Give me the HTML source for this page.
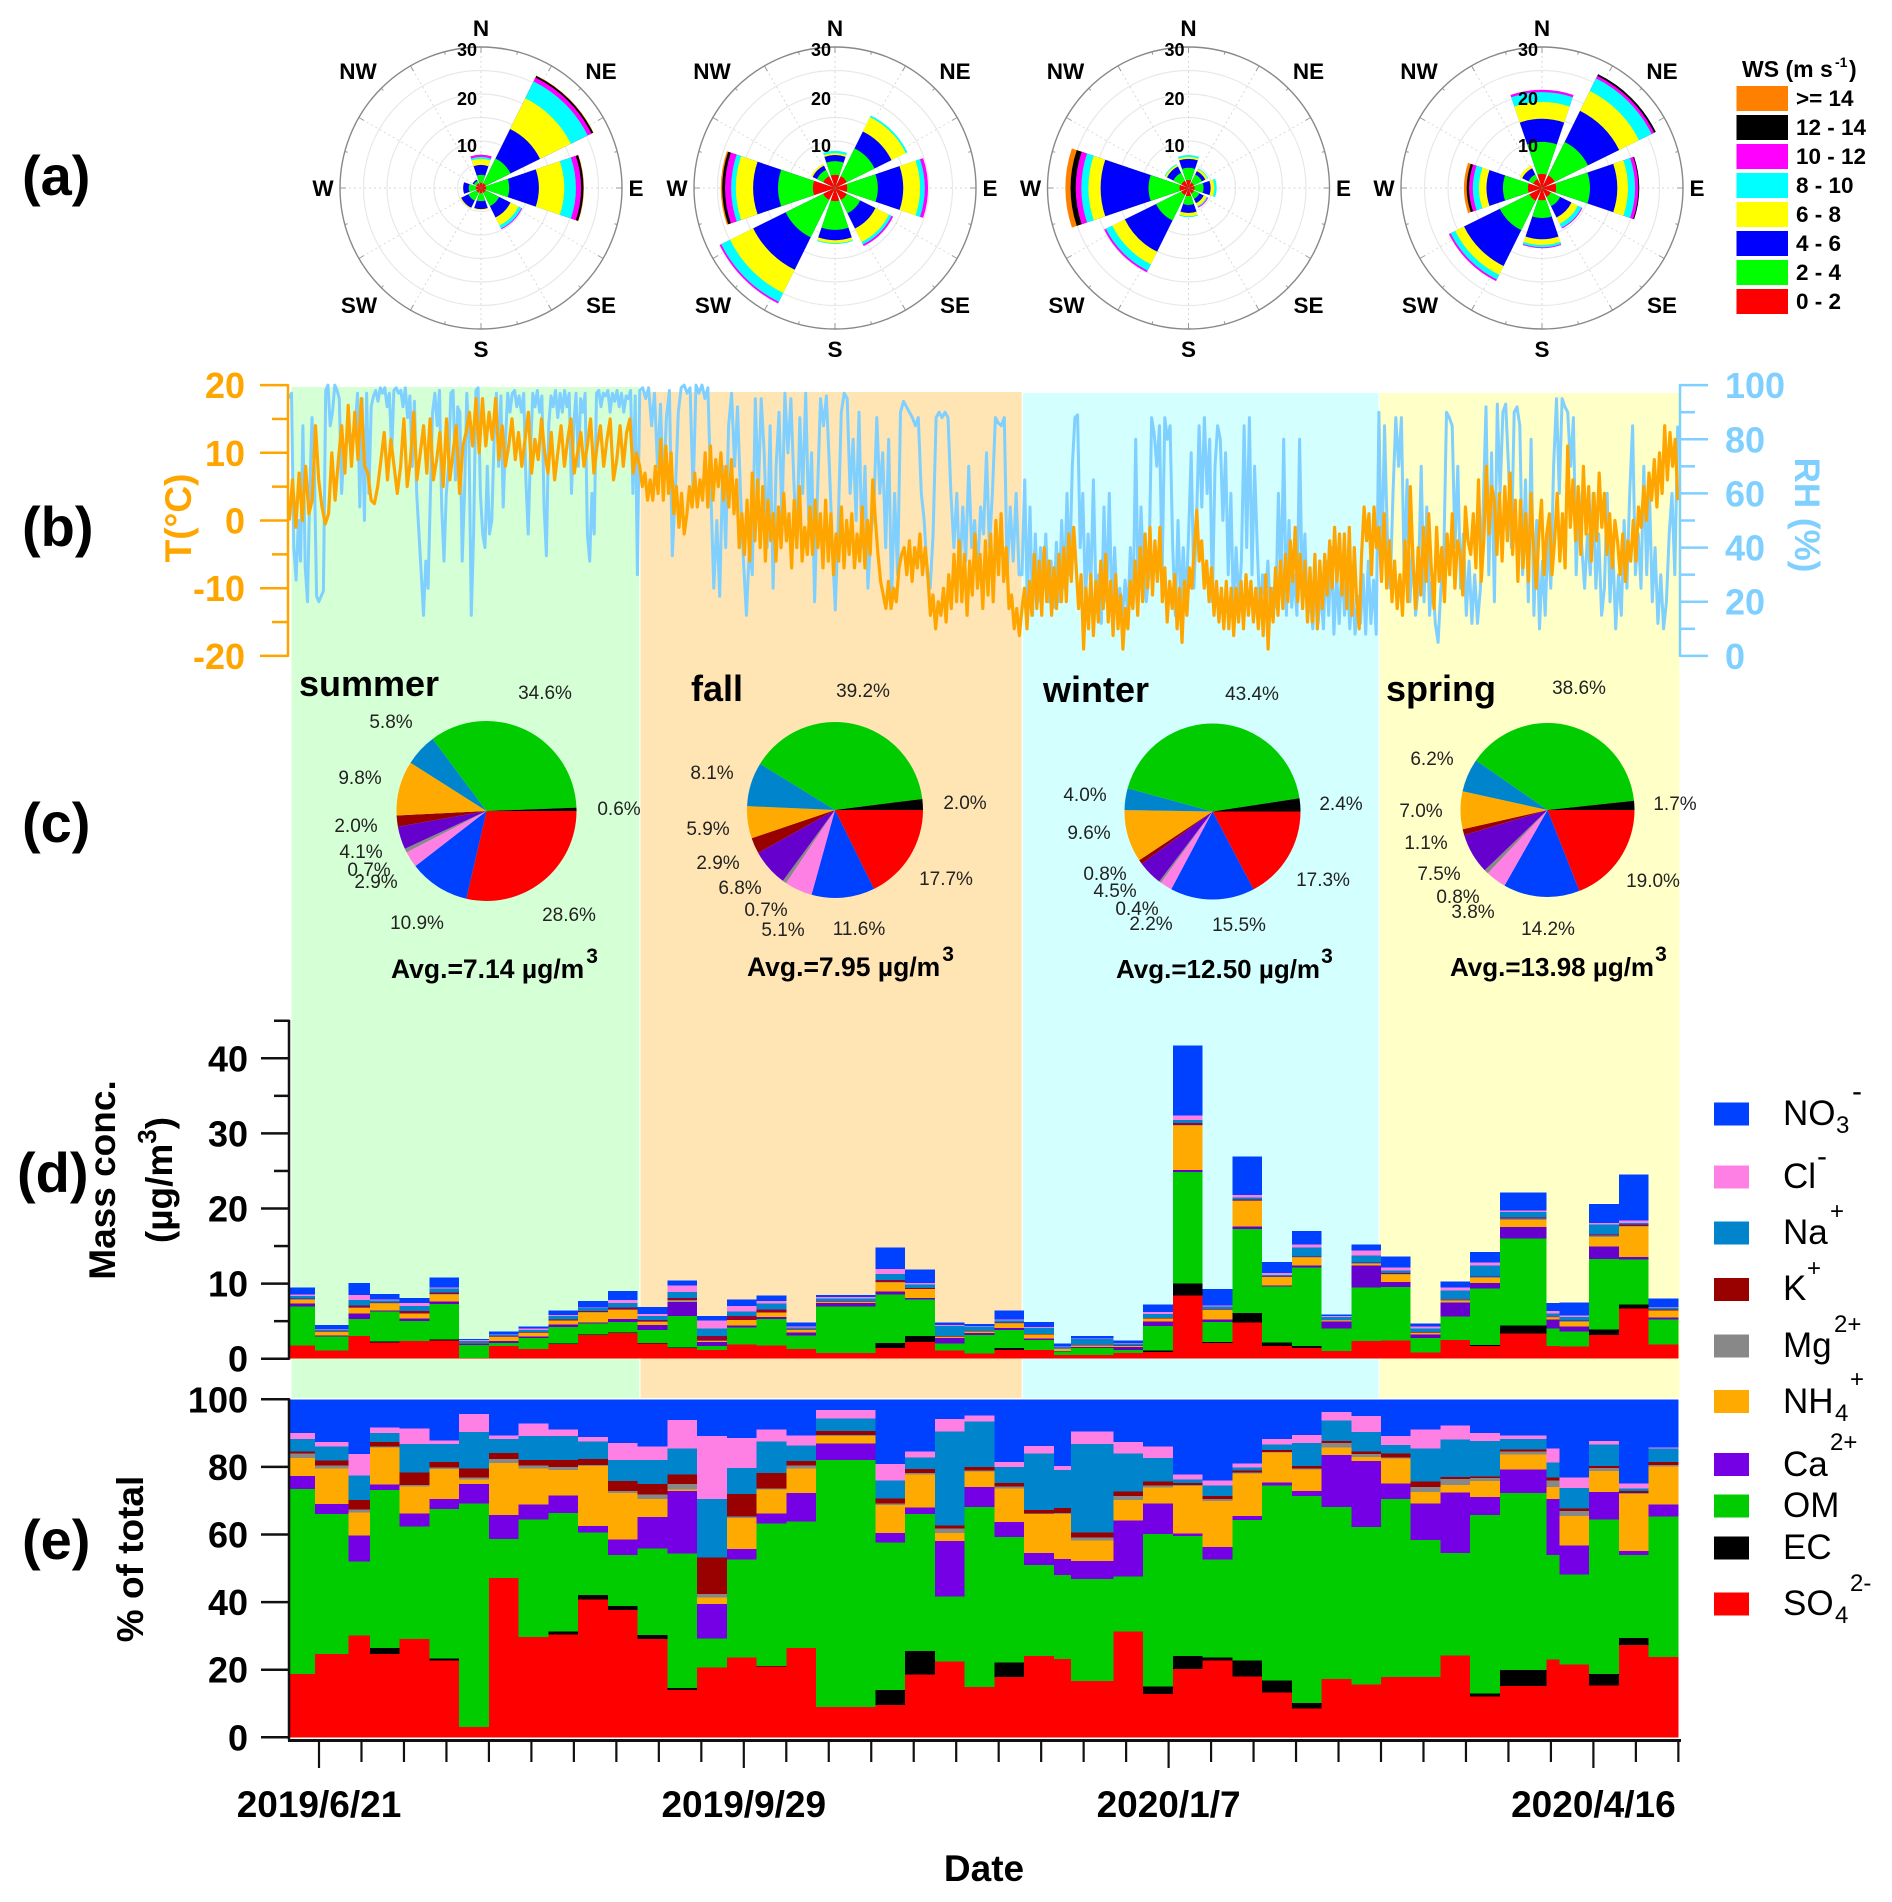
<!DOCTYPE html>
<html lang="en">
<head>
<meta charset="utf-8">
<title>Seasonal wind, meteorology and PM composition</title>
<style>
html,body{margin:0;padding:0;background:#fff}
svg{display:block;font-family:"Liberation Sans",Arial,sans-serif}
.panel{font-weight:700;font-size:56px;fill:#000}
.pct{font-size:19px;fill:#222}
.season{font-weight:700;font-size:36px;fill:#000}
.avg{font-weight:700;font-size:26.5px;fill:#000}
.ion{font-size:35px;fill:#000}
.ions{font-size:24px;fill:#000}
.ws{font-weight:700;font-size:22.5px;fill:#000}
</style>
</head>
<body>
<svg id="fig" xmlns="http://www.w3.org/2000/svg" width="1892" height="1902" viewBox="0 0 1892 1902">
<rect width="1892" height="1902" fill="#fff"/>
<g id="bg"></g>
<g id="roses"></g>
<g id="panelB"></g>
<g id="pies"></g>
<g id="panelD"></g>
<g id="panelE"></g>

<text class="panel" x="22" y="195">(a)</text>
<text class="panel" x="22" y="546">(b)</text>
<text class="panel" x="22" y="842">(c)</text>
<text class="panel" x="17" y="1192">(d)</text>
<text class="panel" x="22" y="1559">(e)</text>

<!-- WS legend -->
<g>
<text x="1742" y="77" font-weight="700" font-size="23">WS (m s</text>
<text x="1835" y="67" font-weight="700" font-size="14">-1</text>
<text x="1849" y="77" font-weight="700" font-size="23">)</text>
<rect x="1736.5" y="86" width="51.5" height="25" fill="#ff8000"/>
<text class="ws" x="1796" y="106">&gt;= 14</text>
<rect x="1736.5" y="115" width="51.5" height="25" fill="#000"/>
<text class="ws" x="1796" y="135">12 - 14</text>
<rect x="1736.5" y="144" width="51.5" height="25" fill="#ff00ff"/>
<text class="ws" x="1796" y="164">10 - 12</text>
<rect x="1736.5" y="173" width="51.5" height="25" fill="#00ffff"/>
<text class="ws" x="1796" y="193">8 - 10</text>
<rect x="1736.5" y="202" width="51.5" height="25" fill="#ffff00"/>
<text class="ws" x="1796" y="222">6 - 8</text>
<rect x="1736.5" y="231" width="51.5" height="25" fill="#0000ff"/>
<text class="ws" x="1796" y="251">4 - 6</text>
<rect x="1736.5" y="260" width="51.5" height="25" fill="#00ff00"/>
<text class="ws" x="1796" y="280">2 - 4</text>
<rect x="1736.5" y="289" width="51.5" height="25" fill="#ff0000"/>
<text class="ws" x="1796" y="309">0 - 2</text>
</g>

<!-- Season titles and averages -->
<text class="season" x="299" y="696">summer</text>
<text class="season" x="691" y="701">fall</text>
<text class="season" x="1043" y="702">winter</text>
<text class="season" x="1386" y="701">spring</text>
<text class="avg" x="391" y="978">Avg.=7.14 µg/m<tspan font-size="21" dy="-15" dx="2">3</tspan></text>
<text class="avg" x="747" y="976">Avg.=7.95 µg/m<tspan font-size="21" dy="-15" dx="2">3</tspan></text>
<text class="avg" x="1116" y="978" font-size="26" style="font-size:26px">Avg.=12.50 µg/m<tspan font-size="21" dy="-15" dx="1">3</tspan></text>
<text class="avg" x="1450" y="976" font-size="26" style="font-size:26px">Avg.=13.98 µg/m<tspan font-size="21" dy="-15" dx="1">3</tspan></text>

<!-- Pie labels -->
<g text-anchor="middle">
<text class="pct" x="545" y="699">34.6%</text>
<text class="pct" x="391" y="728">5.8%</text>
<text class="pct" x="360" y="784">9.8%</text>
<text class="pct" x="619" y="815">0.6%</text>
<text class="pct" x="356" y="832">2.0%</text>
<text class="pct" x="361" y="858">4.1%</text>
<text class="pct" x="369" y="876">0.7%</text>
<text class="pct" x="376" y="888">2.9%</text>
<text class="pct" x="417" y="929">10.9%</text>
<text class="pct" x="569" y="921">28.6%</text>
</g>
<g text-anchor="middle">
<text class="pct" x="863" y="697">39.2%</text>
<text class="pct" x="712" y="779">8.1%</text>
<text class="pct" x="965" y="809">2.0%</text>
<text class="pct" x="708" y="835">5.9%</text>
<text class="pct" x="718" y="869">2.9%</text>
<text class="pct" x="740" y="894">6.8%</text>
<text class="pct" x="766" y="916">0.7%</text>
<text class="pct" x="783" y="936">5.1%</text>
<text class="pct" x="859" y="935">11.6%</text>
<text class="pct" x="946" y="885">17.7%</text>
</g>
<g text-anchor="middle">
<text class="pct" x="1252" y="700">43.4%</text>
<text class="pct" x="1085" y="801">4.0%</text>
<text class="pct" x="1341" y="810">2.4%</text>
<text class="pct" x="1089" y="839">9.6%</text>
<text class="pct" x="1105" y="880">0.8%</text>
<text class="pct" x="1115" y="897">4.5%</text>
<text class="pct" x="1137" y="915">0.4%</text>
<text class="pct" x="1151" y="930">2.2%</text>
<text class="pct" x="1239" y="931">15.5%</text>
<text class="pct" x="1323" y="886">17.3%</text>
</g>
<g text-anchor="middle">
<text class="pct" x="1579" y="694">38.6%</text>
<text class="pct" x="1432" y="765">6.2%</text>
<text class="pct" x="1675" y="810">1.7%</text>
<text class="pct" x="1421" y="817">7.0%</text>
<text class="pct" x="1426" y="849">1.1%</text>
<text class="pct" x="1439" y="880">7.5%</text>
<text class="pct" x="1458" y="903">0.8%</text>
<text class="pct" x="1473" y="918">3.8%</text>
<text class="pct" x="1548" y="935">14.2%</text>
<text class="pct" x="1653" y="887">19.0%</text>
</g>

<!-- Axis titles -->
<text transform="translate(191,518) rotate(-90)" text-anchor="middle" font-weight="700" font-size="37" fill="#ffa500">T(°C)</text>
<text transform="translate(1795,515) rotate(90)" text-anchor="middle" font-weight="700" font-size="35" fill="#7fd0ff">RH (%)</text>
<text transform="translate(115,1180) rotate(-90)" text-anchor="middle" font-weight="700" font-size="37" fill="#000">Mass conc.</text>
<text transform="translate(172,1180) rotate(-90)" text-anchor="middle" font-weight="700" font-size="37" fill="#000">(µg/m<tspan font-size="26" dy="-16">3</tspan><tspan dy="16">)</tspan></text>
<text transform="translate(143,1559) rotate(-90)" text-anchor="middle" font-weight="700" font-size="37" fill="#000">% of total</text>
<text x="984" y="1881" text-anchor="middle" font-weight="700" font-size="37" fill="#000">Date</text>

<!-- Composition legend -->
<g>
<rect x="1714" y="1102.5" width="35" height="23" fill="#0040ff"/>
<text class="ion" x="1783" y="1125">NO</text>
<text class="ions" x="1836" y="1133">3</text>
<text class="ions" x="1852" y="1101" style="font-size:30px">-</text>
<rect x="1714" y="1165.5" width="35" height="23" fill="#ff80e5"/>
<text class="ion" x="1783" y="1188">Cl</text>
<text class="ions" x="1817" y="1166" style="font-size:30px">-</text>
<rect x="1714" y="1221.5" width="35" height="23" fill="#0085cc"/>
<text class="ion" x="1783" y="1244">Na</text>
<text class="ions" x="1830" y="1219">+</text>
<rect x="1714" y="1278" width="35" height="23" fill="#990000"/>
<text class="ion" x="1783" y="1300">K</text>
<text class="ions" x="1807" y="1276">+</text>
<rect x="1714" y="1334.5" width="35" height="23" fill="#888"/>
<text class="ion" x="1783" y="1357">Mg</text>
<text class="ions" x="1834" y="1332">2+</text>
<rect x="1714" y="1390" width="35" height="23" fill="#ffaa00"/>
<text class="ion" x="1783" y="1413">NH</text>
<text class="ions" x="1835" y="1421">4</text>
<text class="ions" x="1850" y="1387">+</text>
<rect x="1714" y="1453" width="35" height="23" fill="#7500e6"/>
<text class="ion" x="1783" y="1476">Ca</text>
<text class="ions" x="1830" y="1450">2+</text>
<rect x="1714" y="1494.5" width="35" height="23" fill="#00cc00"/>
<text class="ion" x="1783" y="1517">OM</text>
<rect x="1714" y="1536.5" width="35" height="23" fill="#000"/>
<text class="ion" x="1783" y="1559">EC</text>
<rect x="1714" y="1592.5" width="35" height="23" fill="#ff0000"/>
<text class="ion" x="1783" y="1615">SO</text>
<text class="ions" x="1835" y="1623">4</text>
<text class="ions" x="1850" y="1591">2-</text>
</g>
</svg>

<script>
// ---------- Data: season boundaries (days since 2019/6/21) ----------
const seasonNames = ['summer','fall','winter','spring'];
const seasonEdges = [-7,75.5,165.5,249.5,320.5];

// ---------- Data: wind rose cumulative frequency (%) at top of each speed bin ----------
const directions = ['N','NE','E','SE','S','SW','W','NW'];
const roseSummer = [
 [1.1,2.8,4.9,6.2,6.6,7.1],
 [1.1,7,14,21.3,25.3,26.2,26.6,26.7],
 [1.1,6,12.3,17.7,20.2,21.3,21.8,21.9],
 [1.1,4.3,7,8.9,9.6,9.8],
 [1.1,2.8,4.5,4.7],
 [1.1,3,4.7,4.9],
 [1.1,2.6,3.8],
 [1.1,1.7,2]];
const roseFall = [
 [2.8,5.7,7,7.4,7.9],
 [2.8,9.4,13.4,16.8,17.2],
 [2.6,9.1,14.5,18.1,19.1,19.8],
 [2.8,6,9.6,12.8,13.4,13.8],
 [2.8,8.9,11.1,11.7,11.9],
 [2.8,11.7,19.4,24.9,27,27.4],
 [4.7,12.1,17.4,21.1,22.1,23.4,24,24.3],
 [2.8,4.3,5.3,5.7]];
const roseWinter = [
 [1.7,4.3,6.2,6.6,7],
 [1.3,3.2,4,4.5,4.7],
 [1.3,3.2,4.7,5.5,6],
 [1.3,2.6,3.6,4.3,4.5,4.7],
 [1.7,3.6,5.3,6,6.2],
 [1.7,7.7,15.1,18.1,19.6,20],
 [1.9,8.5,18.7,21.3,22.8,24,25.1,26.2],
 [1.7,3.6,5.1,5.5,5.7]];
const roseSpring = [
 [3,9.8,14.7,18.3,20.4,20.9],
 [3,10.9,18.3,23,26,26.6,27],
 [3,10.2,16,18.3,19.8,20.5,20.7],
 [2.1,4.3,7,8.5,9.4,9.6],
 [2.6,6.4,10.9,12.1,12.6,12.8],
 [3,10,18.5,20.6,21.7,22.1],
 [3,8.3,11.8,13.4,14.7,15.5,16,16.6],
 [2.1,3.2,4.7,5.3]];
const roseTickLabels = [10,20,30];
const speedColors = ['#ff0000','#00ff00','#0000ff','#ffff00','#00ffff','#ff00ff','#000000','#ff8000'];

// ---------- Data: temperature (deg C) by season ----------
const tSummer = [0,6,-1,7,0,8,1,3,14,6,2,-0.5,1,10,3,9,14,7,17,8,16,9,18,8,7,3,2.5,5,9,13,6,12,8,4,8,15,5,9,16,6,10,14,7,15,6,9,13,5,15,6,10,14,4,11,13,16,11,18,10,18,11,16,12,18,9,14,8,11,15,9,13,8,12,16,7,12,9,15,10,7,13,6,10,14,8,12,15,7,10,13,8,11,15,7,11,14,8,12,15,6,9,14,8,13,15,7,10];
const tFall = [8,5,7,3,6,3,8,4,12,3,11,4,10,1,5,-1,4,-2,1,5,2,7,2,6,3,10,2,11,3,9,5,10,3,8,2,9,1,6,-4,1,-5,3,-6,7,-3,6,-4,5,-6,3,-3,1,-6,2,-4,4,-3,1,-7,3,-4,5,-6,-1,-5,2,-5,3,-4,1,-7,3,-6,1,-8,-2,-6,2,-7,0,-5,1,-7,-2,-6,2,-7,0,-5,6,0,-5,-9,-11,-13,-9,-13,-10,-12,-7,-5,-4,-8,-3,-9,-4,-7,-2,-8,-4,-8,-14,-11,-16,-12,-14,-10,-15,-8,-13,-5,-12,-3,-12,-5,-14,-6,-11,-2,-10,-5,-13,-3,-11,-2,-12,0,-8,1,-9,-4,-13,-11,-16,-13,-17];
const tWinter = [-13,-10,-16,-9,-14,-5,-13,-6,-14,-4,-12,-6,-14,-7,-13,-5,-12,-4,-12,-2,-9,-1,-7,-13,-8,-19,-10,-16,-8,-17,-9,-15,-6,-13,-5,-15,-9,-17,-8,-16,-11,-19,-13,-16,-9,-13,-6,-14,-4,-12,-2,-10,-1,-11,-3,-9,-1,-12,-7,-15,-9,-13,-8,-16,-10,-18,-9,-14,-7,-10,-4,1.5,-6,-3,-10,-6,-12,-7,-14,-9,-15,-10,-16,-9,-16,-10,-17,-10,-15,-9,-16,-8,-14,-9,-15,-10,-16,-10,-17,-8,-19,-10,-15,-7,-14,-6,-13,-5,-12,-3,-9,-1,-12,-5,-13,-6,-15,-7,-15,-5,-16,-6,-13,-5,-11,-3,-10,-1,-9,-2,-11,-2,-13,-1,-14,-4,-12,-16,-5,2,-3,1,-8,2,-4];
const tSpring = [-1,-9,1,-10,-3,-12,-6,-13,-8,-14,-3,-12,5,-6,-13,-4,-11,-1,-9,1,-7,-13,-1,-9,-4,-12,-2,-8,1,-10,-3,-5,-11,2,-3,-5,1,-7,6,-9,-3,8,-2,5,3,-5,4,-6,5,-3,7,-5,3,-9,3,-7,1,-9,4,-4,-10,-2,3,-8,-2,1,-8,-3,4,-6,1,-7,11,-1,6,-3,5,-5,8,-2,5,-6,4,-3,7,-1,4,-5,1,-7,0,-3,-8,-2,-9,-3,-6,0,-6,2,-1,5,0,7,3,9,2,10,4,14,6,13,8,12,3];

// ---------- Data: relative humidity (%) by season ----------
const rhSummer = [95,97,40,28,50,35,85,33,20,60,88,70,22,20,22,24,98,100,85,90,100,98,95,60,75,78,80,80,82,85,97,55,95,50,97,60,92,96,98,94,99,97,99,92,97,75,98,99,97,98,92,99,88,96,70,94,60,45,30,15,35,25,60,90,97,85,98,55,35,60,70,97,98,65,92,90,35,60,97,80,15,45,98,99,60,45,40,70,45,50,80,97,70,96,55,80,97,90,97,98,92,96,90,97,65,45,75,97,92,98,90,96,55,37,85,96,92,98,88,97,90,98,92,97,60,85,97,70,95,90,97,45,35,60,45,97,98,92,97,96,98,90,97,94,98,92,97,90,96,95,98,60,96,30];
const rhFall = [98,99,95,99,85,97,70,93,60,88,98,37,60,90,99,100,97,99,60,100,97,100,95,99,60,25,50,22,70,40,85,97,70,92,60,35,15,40,30,95,60,95,75,40,85,25,70,90,50,97,75,95,65,40,88,60,97,50,75,20,60,95,85,96,70,40,17,50,90,97,95,60,80,50,90,40,70,25,45,55,88,60,75,40,80,20,60,30,90,94,92,90,88,85,88,60,50,30,25,45,88,90,88,90,88,60,40,60,30,55,35,70,40,50,30,55,45,75,40,60,88,86,85,88,30,55,35,60,30];
const rhWinter = [30,65,20,55,15,45,20,40,25,45,20,35,18,42,20,50,25,60,30,70,88,89,40,60,20,45,25,65,20,30,12,55,20,60,15,40,18,25,15,28,15,40,18,80,20,55,30,20,30,88,82,70,85,30,88,80,85,40,15,50,20,40,18,45,75,25,50,85,55,88,60,80,20,70,85,80,50,75,30,60,15,40,20,35,85,40,88,30,70,40,15,30,20,35,15,25,18,60,25,80,15,50,18,30,15,80,25,45,15,20,10,30,12,25,10,35,15,40,8,30,12,35,15,30,10,25,8,22,12,30,8,35,12,28,8];
const rhSpring = [90,30,85,45,25,60,88,70,88,30,65,20,40,15,25,70,20,55,15,30,12,5,25,35,90,88,85,40,70,25,45,15,35,12,30,12,25,55,92,30,75,20,93,60,90,93,70,40,90,92,85,30,65,20,80,15,50,10,35,15,45,25,70,95,60,95,92,90,70,88,30,60,40,25,45,30,60,25,45,15,25,60,20,40,10,30,15,50,25,60,85,30,45,25,70,30,60,20,40,12,30,10,20,45,60,30,85];
const tempTicks = [-20,-10,0,10,20];
const rhTicks = [0,20,40,60,80,100];

// ---------- Data: seasonal pie shares (%), clockwise from 3 o'clock ----------
const pieSpecies = ['SO4','NO3','Cl','Mg','Ca','K','NH4','Na','OM','EC'];
const pieSummer = [28.6,10.9,2.9,0.7,4.1,2.0,9.8,5.8,34.6,0.6];
const pieFall = [17.7,11.6,5.1,0.7,6.8,2.9,5.9,8.1,39.2,2.0];
const pieWinter = [17.3,15.5,2.2,0.4,4.5,0.8,9.6,4.0,43.4,2.4];
const pieSpring = [19.0,14.2,3.8,0.8,7.5,1.1,7.0,6.2,38.6,1.7];

// ---------- Data: filter sample periods (days since 2019/6/21) ----------
const sampleEdges = [-7,-1,7,12,19,26,33,40,47,54,61,68,75,82,89,96,103,110,117,131,138,145,152,159,166,173,177,187,194,201,208,215,222,229,236,243,250,257,264,271,278,289,292,299,306,313,320];
// Total mass (ug/m3) per sample
const massTotal = [9.5,4.5,10.1,8.6,8.1,10.8,2.6,3.6,4.3,6.4,7.7,9.0,6.9,10.4,5.7,7.9,8.4,4.8,8.5,14.8,11.9,4.8,4.6,6.4,4.9,2.0,3.0,2.4,7.2,41.7,9.3,26.9,12.9,17,5.9,15.2,13.6,4.7,10.3,14.2,22.1,7.4,7.5,20.6,24.5,8];
// Share (%) per sample, by species
const so4 = [18.7,24.6,30.2,24.7,29,22.7,3,47.1,29.6,30.4,40.8,37.7,29.1,14,20.7,23.6,20.9,26.4,8.9,9.6,18.6,22.4,14.9,17.8,24.1,23.1,16.6,31.4,12.8,20.2,22.8,18,13.2,8.5,17.2,15.6,17.8,17.8,24.2,12.1,15.2,23,21.6,15.4,27.3,23.7];
const ec = [0,0,0,1.7,0,0.7,0,0,0,0.9,1.3,1.2,1.2,0.6,0,0,0.2,0,0,4.4,6.9,0,0,4.3,0,0,0,0,2.2,3.8,0.8,4.7,3.6,1.6,0,0,0,0,0,0.9,4.7,0,0,3.4,2.1,0];
const om = [54.7,41.5,21.9,46.7,33.3,44.2,66.2,11.5,34.7,35.1,18.4,15.1,25.5,39.8,8.6,29,42.2,37.4,73.2,43.6,40.6,19.2,53.3,37.1,26.9,24.9,30.2,16.2,45.2,35.6,29,41.5,57.7,61.3,51,46.5,52.7,40.6,30.3,52.8,52.4,31,26.6,45.7,24.6,41.6];
const ca = [3.9,2.9,7.6,1.7,3.8,3,5.7,7.2,4.5,5.2,1.9,4.5,9.4,18.4,10.1,3.2,3,8.5,4.9,2.8,1.9,16.5,5.8,4.5,3.6,4.8,5.4,16.6,9.1,0.7,3.7,1.2,0.9,1.5,15.4,19.5,4.7,10.8,17.9,5.4,7,16.5,8.6,8.1,1.2,3.6];
const nh4 = [5.3,10.5,6.9,11,8,8.8,1.4,15.3,10.7,7.5,17.8,13.8,5.3,0.5,2,9.2,7.1,7.3,2.2,8.3,9.9,2.3,4.6,9.9,11.4,13.3,6,6.1,4.7,14.1,13.7,12.5,8.8,6.4,2.2,1.2,7.4,3.4,2.3,4.7,4.3,3.6,8.8,6.3,16.8,11.2];
const mg = [1.3,0.9,0.9,0.3,0.4,0.5,0.6,1.3,0.8,0.9,0.3,0.5,1.3,1.6,1,0.4,0.3,0.8,0.4,0.4,0.3,1.4,0.4,0.6,0.2,0.2,0.9,1.2,0.6,0.3,0.6,0.3,0.2,0.3,1.3,1,0.3,1.6,1.7,0.9,0.9,2,1.4,0.8,0.3,0.5];
const k = [0.7,1.5,2.8,1.3,3.7,1.6,2.6,1.7,1.7,2.1,1.7,3.1,3.1,2.9,10.8,6.6,4.5,1.4,1.1,1.6,1.2,0.8,1,1,1,1.6,1.5,1.3,1.1,0.5,0.8,0.6,0.6,0.7,0.7,0.6,1.1,1.5,0.6,0.5,0.7,0.8,0.8,0.6,0.6,0.9];
const na = [3.6,4.1,7.3,2.7,8.5,5.3,10.8,4.1,7,7.1,5.3,6.2,7.2,7.6,17.3,7.7,9.4,4.6,3.7,5.3,3.5,27.8,13.4,4.7,16.8,11.2,26.2,11.3,7,1,3.2,0.9,1.6,6.9,6,5.9,2.5,9.8,11.1,10.4,3.1,4.5,6,6.4,0.8,3.9];
const cl = [1.9,1.3,6.3,1.5,4.5,1.1,5.3,1.1,3.7,2,1.2,5,3.9,8.5,18.7,8.9,3.6,2.9,2.5,4.8,1.7,3.7,1.8,1.5,2.2,1.2,3.7,3.4,3.4,1.5,1.5,1.2,1.7,2.3,2.5,4.6,2.7,5.7,4.1,2.4,1,4.2,3.1,1.1,1.4,0.4];
const no3 = [9.9,12.7,16.2,8.4,8.7,12.2,4.4,10.7,7.2,8.9,11.2,12.9,14,6.1,10.8,11.5,8.9,10.7,3.2,19.2,15.5,5.9,4.8,18.6,13.8,19.7,9.5,12.6,14,22.3,24,19,11.7,10.6,3.8,5,10.9,8.9,7.8,10,10.7,14.5,23.2,12.3,25,14.2];
const massTicks = [0,10,20,30,40];
const pctTicks = [0,20,40,60,80,100];
const dateLabels = ['2019/6/21','2019/9/29','2020/1/7','2020/4/16'];

// ---------- Scales and helpers ----------
const NS = 'http://www.w3.org/2000/svg';
const xDay = d => 319 + d * 4.248;
const yTemp = t => 520.5 - t * 6.77;
const yRH = v => 655.9 - v * 2.708;
const yMass = v => 1358.7 - v * 7.51;
const yPct = v => 1737.3 - v * 3.38;
const rosePx = v => v * 4.7;

function make(parent, tag, attrs, text) {
  const e = document.createElementNS(NS, tag);
  for (const key in attrs) e.setAttribute(key, attrs[key]);
  if (text !== undefined) e.textContent = text;
  parent.appendChild(e);
  return e;
}
const deg = a => a * Math.PI / 180;

// ---------- Season backgrounds ----------
const bgG = document.getElementById('bg');
const bgFill = ['#d5ffd5','#ffe5b4','#d4ffff','#ffffc8'];
const bgTop = [387,392,393,393];
seasonNames.forEach((name, i) => {
  const left = i === 0 ? 291.5 : xDay(seasonEdges[i]) + 0.8;
  const right = xDay(seasonEdges[i + 1]) - (i === 3 ? 1 : 0.4);
  const bgRect = make(bgG, 'rect', {x:left, y:bgTop[i], width:right-left, height:1398-bgTop[i], fill:bgFill[i]});
  
  
});

// ---------- Wind roses ----------
const rosesG = document.getElementById('roses');
const roseCenters = [481,835,1188.5,1542];
const roseData = [roseSummer,roseFall,roseWinter,roseSpring];
const roseCy = 188, roseR = 141;
const dirOffsets = [[0,-160],[120,-117],[155,0],[120,117],[0,161],[-122,117],[-158,0],[-123,-117]];
roseData.forEach((data, ri) => {
  const cx = roseCenters[ri];
  const g = make(rosesG, 'g', {});
  
  
  for (let v = 5; v < 30; v += 5) {
    const ring = make(g, 'circle', {cx:cx, cy:roseCy, r:rosePx(v), fill:'none', stroke:'#e8e8e8', 'stroke-width':1.2});
    
    
  }
  for (let a = 0; a < 360; a += 30) {
    const spoke = make(g, 'line', {x1:cx, y1:roseCy, x2:cx + roseR * Math.sin(deg(a)), y2:roseCy - roseR * Math.cos(deg(a)), stroke:'#d8d8d8', 'stroke-width':1, 'stroke-dasharray':'2 3'});
    
    
  }
  for (let a = 0; a < 360; a += 15) {
    const inner = a % 30 === 0 ? roseR - 6 : roseR - 3;
    const tick = make(g, 'line', {x1:cx + inner * Math.sin(deg(a)), y1:roseCy - inner * Math.cos(deg(a)), x2:cx + roseR * Math.sin(deg(a)), y2:roseCy - roseR * Math.cos(deg(a)), stroke:'#999', 'stroke-width':1});
    
    
  }
  const outer = make(g, 'circle', {cx:cx, cy:roseCy, r:roseR, fill:'none', stroke:'#888', 'stroke-width':1.4});
  
  
  data.forEach((bins, di) => {
    const centre = di * 45, half = 18.75;
    for (let b = bins.length - 1; b >= 0; b--) {
      const r = rosePx(bins[b]);
      const a0 = deg(centre - half), a1 = deg(centre + half);
      const d = 'M' + cx + ' ' + roseCy +
        'L' + (cx + r * Math.sin(a0)) + ' ' + (roseCy - r * Math.cos(a0)) +
        'A' + r + ' ' + r + ' 0 0 1 ' + (cx + r * Math.sin(a1)) + ' ' + (roseCy - r * Math.cos(a1)) + 'Z';
      const wedge = make(g, 'path', {d:d, fill:speedColors[b]});
      
      
    }
  });
  directions.forEach((label, di) => {
    const t = make(g, 'text', {x:cx + dirOffsets[di][0], y:roseCy + dirOffsets[di][1] + 8, 'text-anchor':'middle', 'font-weight':700, 'font-size':22.5, fill:'#000'}, label);
    
    
  });
  roseTickLabels.forEach(v => {
    const t = make(g, 'text', {x:cx - 14, y:roseCy - rosePx(v) + (v === 30 ? 9 : 11), 'text-anchor':'middle', 'font-weight':700, 'font-size':18, fill:'#000'}, v);
    
    
  });
});

// ---------- Panel b ----------
const panelB = document.getElementById('panelB');
const seriesPoints = (seasons, yFn) => {
  const pts = [];
  seasons.forEach((vals, si) => {
    const d0 = seasonEdges[si], d1 = seasonEdges[si + 1];
    vals.forEach((v, i) => pts.push(xDay(d0 + (d1 - d0) * i / vals.length).toFixed(1) + ',' + yFn(v).toFixed(1)));
  });
  return pts.join(' ');
};
const rhLine = make(panelB, 'polyline', {points:seriesPoints([rhSummer,rhFall,rhWinter,rhSpring], yRH), fill:'none', stroke:'#7fd0ff', 'stroke-width':3, 'stroke-linejoin':'round'});


const tLine = make(panelB, 'polyline', {points:seriesPoints([tSummer,tFall,tWinter,tSpring], yTemp), fill:'none', stroke:'#ffa500', 'stroke-width':3.2, 'stroke-linejoin':'round'});



const tAxis = make(panelB, 'line', {x1:288, x2:288, y1:yTemp(20)-1, y2:yTemp(-20)+1, stroke:'#ffa500', 'stroke-width':2.5});


for (let v = -20; v <= 20; v += 5) {
  const isMajor = v % 10 === 0;
  const tk = make(panelB, 'line', {x1:isMajor ? 260 : 272, x2:288, y1:yTemp(v), y2:yTemp(v), stroke:'#ffa500', 'stroke-width':2.5});
  
  
}
tempTicks.forEach(v => {
  const t = make(panelB, 'text', {x:245, y:yTemp(v) + 13, 'text-anchor':'end', 'font-weight':700, 'font-size':36, fill:'#ffa500'}, v);
  
  
});
const rhAxis = make(panelB, 'line', {x1:1680, x2:1680, y1:yRH(100)-1, y2:yRH(0)+1, stroke:'#7fd0ff', 'stroke-width':2.5});


for (let v = 0; v <= 100; v += 10) {
  const isMajor = v % 20 === 0;
  const tk = make(panelB, 'line', {x1:1680, x2:isMajor ? 1708 : 1695, y1:yRH(v), y2:yRH(v), stroke:'#7fd0ff', 'stroke-width':2.5});
  
  
}
rhTicks.forEach(v => {
  const t = make(panelB, 'text', {x:1725, y:yRH(v) + 13, 'font-weight':700, 'font-size':36, fill:'#7fd0ff'}, v);
  
  
});

// ---------- Pies ----------
const piesG = document.getElementById('pies');
const pieData = [pieSummer,pieFall,pieWinter,pieSpring];
const pieGeom = [[486.5,811,90],[835,810,88],[1212.5,811.5,88],[1547.5,810,87]];
const pieColors = ['#ff0000','#0040ff','#ff80e5','#888888','#6600cc','#990000','#ffaa00','#0085cc','#00cc00','#000000'];
pieData.forEach((vals, pi) => {
  const cx = pieGeom[pi][0], cy = pieGeom[pi][1], r = pieGeom[pi][2];
  const sum = vals.reduce((a, b) => a + b, 0);
  let ang = 0;
  vals.forEach((v, i) => {
    const next = ang + v / sum * 2 * Math.PI;
    const large = next - ang > Math.PI ? 1 : 0;
    const d = 'M' + cx + ' ' + cy + 'L' + (cx + r * Math.cos(ang)) + ' ' + (cy + r * Math.sin(ang)) +
      'A' + r + ' ' + r + ' 0 ' + large + ' 1 ' + (cx + r * Math.cos(next)) + ' ' + (cy + r * Math.sin(next)) + 'Z';
    const slice = make(piesG, 'path', {d:d, fill:pieColors[i]});
    
    
    ang = next;
  });
});

// ---------- Stacked bars d and e ----------
const speciesArrays = [so4,ec,om,ca,nh4,mg,k,na,cl,no3];
const speciesNames = ['so4','ec','om','ca','nh4','mg','k','na','cl','no3'];
const stackColorsE = ['#ff0000','#000000','#00cc00','#7500e6','#ffaa00','#888888','#990000','#0085cc','#ff80e5','#0040ff'];
const stackColorsD = ['#ff0000','#000000','#00cc00','#6600cc','#ffaa00','#888888','#990033','#0085cc','#ff80e5','#0040ff'];
const panelD = document.getElementById('panelD');
const panelE = document.getElementById('panelE');
massTotal.forEach((total, i) => {
  const x0 = xDay(sampleEdges[i]), x1 = xDay(sampleEdges[i + 1]);
  const shares = speciesArrays.map(a => a[i]);
  const sum = shares.reduce((a, b) => a + b, 0);
  let cum = 0;
  shares.forEach((s, j) => {
    const frac0 = cum / sum, frac1 = (cum + s) / sum;
    cum += s;
    if (s <= 0) return;
    const rectE = make(panelE, 'rect', {x:x0, width:x1 - x0, y:yPct(frac1 * 100), height:yPct(frac0 * 100) - yPct(frac1 * 100), fill:stackColorsE[j], 'shape-rendering':'crispEdges'});
    
    
    const rectD = make(panelD, 'rect', {x:x0, width:x1 - x0, y:yMass(frac1 * total), height:yMass(frac0 * total) - yMass(frac1 * total), fill:stackColorsD[j], 'shape-rendering':'crispEdges'});
    
    
  });
});

// Panel d axis
const dAxis = make(panelD, 'line', {x1:289, x2:289, y1:yMass(45)-1, y2:yMass(0)+1, stroke:'#111', 'stroke-width':2.5});


for (let v = 0; v <= 45; v += 5) {
  const isMajor = v % 10 === 0;
  const tk = make(panelD, 'line', {x1:isMajor ? 261 : 274, x2:289, y1:yMass(v), y2:yMass(v), stroke:'#111', 'stroke-width':2.5});
  
  
}
massTicks.forEach(v => {
  const t = make(panelD, 'text', {x:248, y:yMass(v) + 13, 'text-anchor':'end', 'font-weight':700, 'font-size':36, fill:'#000'}, v);
  
  
});

// Panel e axes
const eAxis = make(panelE, 'line', {x1:289, x2:289, y1:yPct(100)-1, y2:yPct(0)+3, stroke:'#111', 'stroke-width':2.5});


pctTicks.forEach(v => {
  const tk = make(panelE, 'line', {x1:261, x2:289, y1:yPct(v), y2:yPct(v), stroke:'#111', 'stroke-width':2.5});
  
  
  const t = make(panelE, 'text', {x:248, y:yPct(v) + 13, 'text-anchor':'end', 'font-weight':700, 'font-size':36, fill:'#000'}, v);
  
  
});
const xAxis = make(panelE, 'line', {x1:288, x2:1681, y1:1740.5, y2:1740.5, stroke:'#111', 'stroke-width':3});


for (let d = 0; d <= 320; d += 10) {
  const isMajor = d % 100 === 0;
  const tk = make(panelE, 'line', {x1:xDay(d), x2:xDay(d), y1:1740, y2:isMajor ? 1768 : 1762, stroke:'#111', 'stroke-width':2.2});
  
  
}
dateLabels.forEach((label, i) => {
  const t = make(panelE, 'text', {x:xDay(i * 100), y:1817, 'text-anchor':'middle', 'font-weight':700, 'font-size':37, fill:'#000'}, label);
  
  
});
</script>
</body>
</html>
